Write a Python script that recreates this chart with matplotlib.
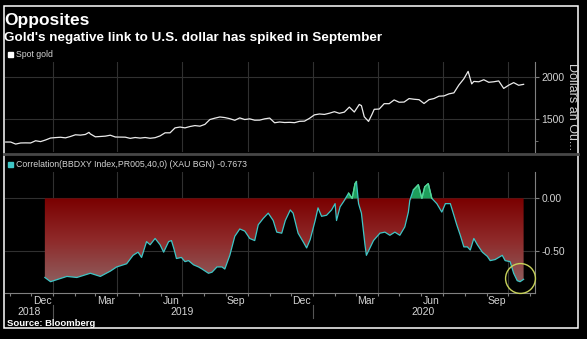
import numpy as np
import pandas as pd
import matplotlib
matplotlib.use('Agg')
import matplotlib.pyplot as plt
import matplotlib.dates as mdates
from matplotlib.colors import LinearSegmentedColormap
from matplotlib.lines import Line2D
from matplotlib.patches import Rectangle

plt.rcParams['font.family'] = ['Liberation Sans', 'DejaVu Sans']

# Spot gold, dollars an ounce (weekly)
gold_dates = [
    '2018-10-26', '2018-11-02', '2018-11-09', '2018-11-16', '2018-11-23', '2018-11-30',
    '2018-12-07', '2018-12-14', '2018-12-21', '2018-12-28',
    '2019-01-04', '2019-01-11', '2019-01-18', '2019-01-25', '2019-02-01', '2019-02-08',
    '2019-02-15', '2019-02-20', '2019-02-22', '2019-03-01', '2019-03-08', '2019-03-15',
    '2019-03-22', '2019-03-29', '2019-04-05', '2019-04-12', '2019-04-19', '2019-04-26',
    '2019-05-03', '2019-05-10', '2019-05-17', '2019-05-24', '2019-05-31', '2019-06-07',
    '2019-06-14', '2019-06-21', '2019-06-28', '2019-07-05', '2019-07-12', '2019-07-19',
    '2019-07-26', '2019-08-02', '2019-08-09', '2019-08-16', '2019-08-23', '2019-08-30',
    '2019-09-06', '2019-09-13', '2019-09-20', '2019-09-27', '2019-10-04', '2019-10-11',
    '2019-10-18', '2019-10-25', '2019-11-01', '2019-11-08', '2019-11-15', '2019-11-22',
    '2019-11-29', '2019-12-06', '2019-12-13', '2019-12-20', '2019-12-27',
    '2020-01-03', '2020-01-10', '2020-01-17', '2020-01-24', '2020-01-31', '2020-02-07',
    '2020-02-14', '2020-02-21', '2020-02-28', '2020-03-06', '2020-03-09', '2020-03-13',
    '2020-03-19', '2020-03-24', '2020-03-27', '2020-04-03', '2020-04-10', '2020-04-17',
    '2020-04-24', '2020-05-01', '2020-05-08', '2020-05-15', '2020-05-22', '2020-05-29',
    '2020-06-05', '2020-06-12', '2020-06-19', '2020-06-26', '2020-07-03', '2020-07-10',
    '2020-07-17', '2020-07-24', '2020-07-31', '2020-08-06', '2020-08-11', '2020-08-14',
    '2020-08-21', '2020-08-28', '2020-09-04', '2020-09-11', '2020-09-18', '2020-09-25',
    '2020-10-02', '2020-10-09', '2020-10-16', '2020-10-23',
]
gold_values = [
    1233, 1233, 1209, 1222, 1223, 1222,
    1248, 1238, 1257, 1280,
    1285, 1289, 1282, 1298, 1318, 1314,
    1322, 1346, 1328, 1294, 1298, 1302,
    1313, 1292, 1291, 1290, 1276, 1286,
    1279, 1286, 1277, 1284, 1305, 1341,
    1341, 1399, 1409, 1399, 1415, 1426,
    1419, 1440, 1497, 1513, 1527, 1520,
    1507, 1488, 1516, 1497, 1505, 1489,
    1490, 1505, 1514, 1459, 1468, 1462,
    1464, 1460, 1476, 1478, 1511,
    1552, 1562, 1557, 1571, 1589, 1570,
    1584, 1643, 1585, 1674, 1660, 1529,
    1475, 1560, 1617, 1620, 1683, 1683,
    1727, 1700, 1702, 1743, 1735, 1730,
    1685, 1730, 1743, 1771, 1774, 1798,
    1810, 1902, 1975, 2062, 1915, 1944,
    1940, 1964, 1934, 1940, 1950, 1862,
    1900, 1930, 1899, 1910,
]

# Correlation(BBDXY Index, XAU) 40-day
corr_dates = [
    '2018-12-20', '2018-12-28', '2019-01-20', '2019-02-03', '2019-02-22', '2019-03-08',
    '2019-03-22', '2019-03-31', '2019-04-14', '2019-04-23', '2019-04-30', '2019-05-05',
    '2019-05-12', '2019-05-17', '2019-05-24', '2019-05-31', '2019-06-05', '2019-06-12',
    '2019-06-16', '2019-06-20', '2019-06-23', '2019-06-30', '2019-07-05', '2019-07-10',
    '2019-07-17', '2019-07-24', '2019-07-29', '2019-08-07', '2019-08-12', '2019-08-19',
    '2019-08-26', '2019-08-30', '2019-09-06', '2019-09-13', '2019-09-20', '2019-09-27',
    '2019-10-04', '2019-10-11', '2019-10-16', '2019-10-23', '2019-10-30', '2019-11-06',
    '2019-11-11', '2019-11-18', '2019-11-23', '2019-11-30', '2019-12-04', '2019-12-11',
    '2019-12-18', '2019-12-23', '2019-12-28',
    '2020-01-04', '2020-01-08', '2020-01-13', '2020-01-20', '2020-01-27', '2020-02-01',
    '2020-02-03', '2020-02-08', '2020-02-13', '2020-02-20', '2020-02-25', '2020-02-29',
    '2020-03-02', '2020-03-05', '2020-03-09', '2020-03-14', '2020-03-16', '2020-03-21',
    '2020-03-26', '2020-04-04', '2020-04-11', '2020-04-18', '2020-04-25', '2020-05-02',
    '2020-05-09', '2020-05-14', '2020-05-16', '2020-05-21', '2020-05-28', '2020-06-02',
    '2020-06-06', '2020-06-11', '2020-06-16', '2020-06-23', '2020-06-30', '2020-07-05',
    '2020-07-12', '2020-07-17', '2020-07-21', '2020-07-26', '2020-07-31', '2020-08-05',
    '2020-08-09', '2020-08-14', '2020-08-19', '2020-08-26', '2020-09-02', '2020-09-06',
    '2020-09-13', '2020-09-23', '2020-09-27', '2020-10-04', '2020-10-09', '2020-10-14',
    '2020-10-18', '2020-10-23',
]
corr_values = [
    -0.75, -0.79, -0.74, -0.75, -0.71, -0.74,
    -0.69, -0.65, -0.62, -0.54, -0.51, -0.56,
    -0.41, -0.44, -0.38, -0.44, -0.51, -0.41,
    -0.40, -0.49, -0.57, -0.56, -0.60, -0.59,
    -0.63, -0.65, -0.67, -0.71, -0.70, -0.65,
    -0.65, -0.67, -0.54, -0.36, -0.29, -0.31,
    -0.38, -0.40, -0.25, -0.19, -0.14, -0.21,
    -0.32, -0.33, -0.21, -0.11, -0.14, -0.33,
    -0.41, -0.47, -0.39,
    -0.21, -0.09, -0.17, -0.16, -0.11, -0.05,
    -0.21, -0.08, -0.03, 0.05, 0.00, 0.14,
    0.16, -0.05, -0.14, -0.44, -0.54, -0.47,
    -0.40, -0.33, -0.32, -0.35, -0.32, -0.35,
    -0.27, -0.13, -0.02, 0.08, 0.13, 0.00,
    0.11, 0.14, 0.00, -0.05, -0.13, -0.05,
    -0.05, -0.16, -0.25, -0.35, -0.46, -0.46,
    -0.49, -0.38, -0.44, -0.51, -0.55, -0.59,
    -0.58, -0.54, -0.59, -0.60, -0.71, -0.78,
    -0.79, -0.7673,
]

month_label_dates = ['2018-12-16', '2019-03-16', '2019-06-15', '2019-09-15',
                     '2019-12-16', '2020-03-16', '2020-06-15', '2020-09-15']
month_labels = ['Dec', 'Mar', 'Jun', 'Sep', 'Dec', 'Mar', 'Jun', 'Sep']
year_labels = ['2018', '2019', '2020']
year_label_dates = ['2018-11-28', '2019-07-01', '2020-06-04']
year_breaks = ['2019-01-01', '2020-01-01']
grid_dates = ['2019-01-01', '2019-04-01', '2019-07-01', '2019-10-01',
              '2020-01-01', '2020-04-01', '2020-07-01', '2020-10-01']
x_start, x_end = '2018-10-25', '2020-11-08'
circle_date, circle_value = '2020-10-18', -0.753

gd = pd.to_datetime(gold_dates)
gv = np.array(gold_values, dtype=float)
cd = pd.to_datetime(corr_dates)
cv = np.array(corr_values, dtype=float)
xlim = (pd.Timestamp(x_start), pd.Timestamp(x_end))

W, H = 587, 339
fig = plt.figure(figsize=(W / 100, H / 100), dpi=100, facecolor='black')


def box(x0, y0, x1, y1):
    return [x0 / W, 1 - y1 / H, (x1 - x0) / W, (y1 - y0) / H]


GRID = '#303030'
AXC = '#808080'
TXT = '#d4d4d4'

ax1 = fig.add_axes(box(5, 62, 535, 152))
ax2 = fig.add_axes(box(5, 172, 535, 293.3))
for ax in (ax1, ax2):
    ax.set_facecolor('black')
    for s in ['top', 'left', 'bottom']:
        ax.spines[s].set_visible(False)
    ax.spines['right'].set_color(AXC)
    ax.spines['right'].set_linewidth(0.8)
    ax.yaxis.tick_right()
    ax.tick_params(axis='y', colors=AXC, labelcolor=TXT, labelsize=7.5, length=3, width=0.8, pad=1.5)
    for g in grid_dates:
        ax.axvline(pd.Timestamp(g), color=GRID, lw=0.8, zorder=0)

# top panel: spot gold
ax1.plot(gd, gv, color='#ebebeb', lw=0.9, zorder=3)
ax1.set_xlim(xlim)
ax1.set_ylim(1116, 2172)
ax1.set_yticks([1500, 2000])
ax1.set_yticks([1250], minor=True)
ax1.tick_params(axis='y', which='minor', colors=AXC, length=2)
for v in [1500, 2000]:
    ax1.axhline(v, color=GRID, lw=0.8, zorder=0)
ax1.set_xticks([])

# bottom panel: correlation
neg = np.minimum(cv, 0)
poly = ax2.fill_between(cd, neg, 0, color='none', lw=0)
cmap = LinearSegmentedColormap.from_list('redfade', ['#7a0000', '#8f2a2a', '#8e5e5e'])
grad = np.linspace(0, 1, 256).reshape(-1, 1)
x0n, x1n = mdates.date2num(xlim[0]), mdates.date2num(xlim[1])
img = ax2.imshow(grad, extent=[x0n, x1n, -0.8, 0], aspect='auto', cmap=cmap,
                 origin='upper', zorder=1)
img.set_clip_path(poly.get_paths()[0], transform=ax2.transData)
ax2.fill_between(cd, cv, 0, where=cv > 0, interpolate=True, color='#1e9e5c', lw=0, zorder=2)
ax2.plot(cd, cv, color='#3ec6c6', lw=0.9, zorder=3)
ax2.plot(cd, np.where(cv >= 0, cv, np.nan), color='#56d88e', lw=0.9, zorder=4)
ax2.plot(pd.Timestamp(circle_date), circle_value, 'o', ms=21.5, mfc='none',
         mec='#c8d25a', mew=1.0, clip_on=False, zorder=5)

ax2.set_xlim(xlim)
ax2.set_ylim(-0.90, 0.25)
ax2.set_yticks([0.0, -0.5])
ax2.set_yticklabels(['0.00', '-0.50'])
for v in [0.0, -0.5]:
    ax2.axhline(v, color=GRID, lw=0.8, zorder=0)

ax2.spines['bottom'].set_visible(True)
ax2.spines['bottom'].set_color(AXC)
ax2.spines['bottom'].set_linewidth(0.8)
ax2.set_xticks(pd.to_datetime(month_label_dates))
ax2.set_xticklabels(month_labels)
ax2.xaxis.set_minor_locator(mdates.MonthLocator())
ax2.tick_params(axis='x', which='major', length=0, labelsize=7.5, labelcolor=TXT, pad=2)
ax2.tick_params(axis='x', which='minor', length=2, color=AXC, width=0.8)

tr = ax2.get_xaxis_transform()
for lab, d in zip(year_labels, year_label_dates):
    ax2.text(pd.Timestamp(d), -0.154, lab, transform=tr, ha='center', va='center',
             fontsize=7.5, color=TXT, clip_on=False)
for d in year_breaks:
    ax2.add_line(Line2D([pd.Timestamp(d)] * 2, [-0.097, -0.204], transform=tr,
                        color='#555555', lw=0.8, clip_on=False))

# titles, legends, labels
fig.text(4 / W, 1 - 24.5 / H, 'Opposites', fontsize=12.5, weight='bold',
         color='white', va='baseline', ha='left')
fig.text(4 / W, 1 - 41 / H, "Gold's negative link to U.S. dollar has spiked in September",
         fontsize=9.7, weight='bold', color='white', va='baseline', ha='left')
fig.patches.append(Rectangle((8 / W, 1 - 57 / H), 5 / W, 5 / H, transform=fig.transFigure,
                             color='white'))
fig.text(16 / W, 1 - 54.5 / H, 'Spot gold', fontsize=6.3, color=TXT, va='center')
fig.patches.append(Rectangle((8 / W, 1 - 167 / H), 5 / W, 5 / H, transform=fig.transFigure,
                             color='#3ec6c6'))
fig.text(16 / W, 1 - 164.5 / H, 'Correlation(BBDXY Index,PR005,40,0) (XAU BGN) -0.7673',
         fontsize=6.3, color=TXT, va='center')
fig.text(572 / W, 1 - 63 / H, 'Dollars an Ou...', rotation=270, fontsize=9,
         color=TXT, va='top', ha='center')
fig.text(7 / W, 1 - 323.5 / H, 'Source: Bloomberg', fontsize=6.8, weight='bold',
         color='white', va='center')

# panel separator and outer frame
fig.add_artist(Line2D([4 / W, 578 / W], [1 - 153.5 / H] * 2, transform=fig.transFigure,
                      color='#474747', lw=2))
fig.patches.append(Rectangle((4 / W, 1 - 328 / H), 574 / W, 322 / H, transform=fig.transFigure,
                             fill=False, edgecolor='white', lw=1.1))

fig.savefig('out.png', dpi=100, facecolor='black')
